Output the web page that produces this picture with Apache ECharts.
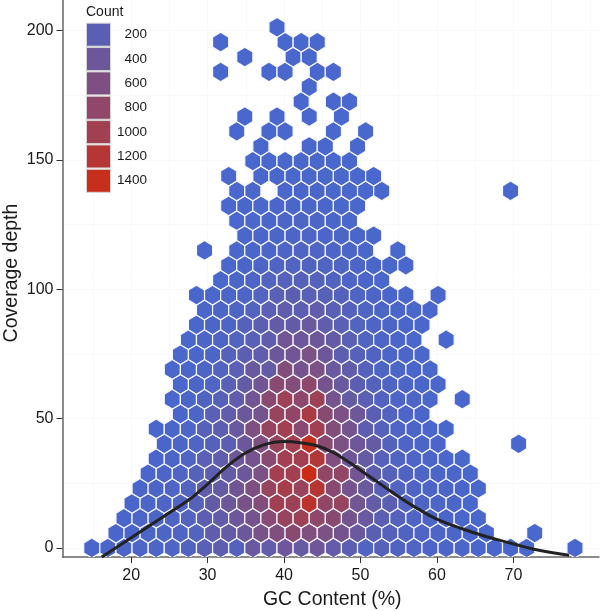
<!DOCTYPE html>
<html>
<head>
<meta charset="utf-8">
<style>html,body{margin:0;padding:0;background:#fff}#c{width:600px;height:611px}</style>
<script src="https://cdn.jsdelivr.net/npm/echarts@6/dist/echarts.min.js"></script>
</head>
<body>
<div id="c"></div>
<script>
// Hexagon bin grid (in data units)
const gcOrigin = 14.85, gcStep = 2.107, depthStep = 5.75;
// First column index in each row, bottom row first
const rowStart = [0,1,2,2,3,3,4,4,4,5,5,5,5,5,6,6,7,6,8,8,7,9,9,8,9,8,10,10,9,9,13,13,8,9,8,11];
// Bin counts in each row, null = empty bin
const rowCounts = [
 [15,20,30,40,50,60,90,180,230,120,350,280,420,330,420,280,220,80,150,90,70,45,35,30,20,20,15,8,null,null,4],
 [15,25,35,50,65,100,260,300,400,520,620,720,620,560,500,360,190,150,90,65,45,30,20,15,null,null,3],
 [20,35,50,70,110,220,270,400,500,700,880,950,780,720,500,360,190,130,70,50,35,20,8],
 [20,35,55,80,150,300,400,540,650,980,950,1280,820,880,460,280,190,100,65,45,30,10],
 [20,35,65,100,260,310,440,600,880,1050,900,1230,720,500,360,170,100,65,45,30,20,8],
 [20,40,65,130,220,300,400,560,1000,1000,1450,820,820,460,230,150,90,55,35,20,10],
 [15,35,70,180,260,400,500,720,1000,1000,1180,620,410,310,150,80,50,35,20,8],
 [15,35,60,150,220,400,600,880,1000,1400,720,560,410,310,130,70,40,18,null,null,null,null,3],
 [5,20,50,150,220,350,600,880,1000,720,1000,660,500,230,130,65,35,20,5],
 [15,50,180,260,400,500,880,820,1100,720,560,410,190,110,50,18],
 [10,35,90,150,260,450,720,950,770,950,500,310,190,90,50,30,10,null,3],
 [8,30,70,180,300,450,720,660,770,500,360,220,130,70,35,18,6],
 [6,20,60,100,180,360,310,660,500,560,360,260,130,60,35,18,6],
 [6,20,50,140,220,260,400,450,560,400,220,150,90,50,30,8],
 [10,40,60,100,180,260,450,400,400,310,180,80,50,20,8,null,3],
 [8,30,50,140,220,300,300,360,260,180,100,60,30,18,6],
 [15,35,60,100,180,260,220,260,180,120,70,35,18,8,3],
 [5,10,30,50,100,180,220,180,160,120,70,40,20,6,null,3],
 [12,30,60,100,140,150,120,90,50,22,6],
 [6,20,40,70,85,95,80,60,35,18,8,3],
 [3,null,8,20,40,55,70,60,45,25,12,null,3],
 [6,15,30,45,55,45,30,15,6],
 [4,12,22,35,40,30,18,8],
 [3,5,12,20,28,28,20,12,4],
 [3,6,null,12,16,16,12,8,4,3,null,null,null,null,null,null,null,3],
 [2,null,4,8,12,12,10,6,3,2],
 [3,6,8,8,6,4,2],
 [2,null,null,3,3,null,1],
 [1,null,3,3,null,null,2,null,1],
 [1,null,2,null,2,null,1],
 [2,null,2,1],
 [2],
 [1,null,null,2,2,null,2,1],
 [1,null,null,2,2],
 [1,null,null,null,2,2,1],
 [1]
];
// Smoothed trend line
const curveGC = [16.16,20.1,24.2,27.5,29.9,32.5,34.9,37.3,40,42.1,44.3,46.5,48.7,50.9,53.1,55.3,57.4,60,63.1,66.2,69.7,72.7,77.3];
const curveDepth = [-3.5,4.1,12.1,18.5,24.4,31.4,36.6,39.8,41.1,40.7,39.5,36.8,32.7,28.2,23.7,19.2,15.3,11.1,7.6,4.6,1.8,-0.5,-2.8];
// Axes and legend
const xTicks = [20,30,40,50,60,70];
const yTicks = [0,50,100,150,200];
const xGridLines = [15,20,25,30,35,40,45,50,55,60,65,70,75,80];
const yGridLines = [0,25,50,75,100,125,150,175,200];
const legendTicks = [200,400,600,800,1000,1200,1400];

const low = [73,103,204], high = [204,44,20], countMax = 1480;
function countColor(n){
  const t = Math.min(1, n / countMax);
  return 'rgb(' + low.map((c,i)=>Math.round(c + (high[i]-c)*t)).join(',') + ')';
}

const hexData = [];
rowCounts.forEach((row, r) => {
  row.forEach((n, i) => {
    if (n === null) return;
    const col = rowStart[r] + i;
    hexData.push([gcOrigin + gcStep*col + (r % 2 ? gcStep/2 : 0), r*depthStep, n]);
  });
});

function renderHex(params, api){
  const x = api.value(0), y = api.value(1);
  const w = gcStep/2, a = depthStep/3;
  const pts = [[x,y+2*a],[x+w,y+a],[x+w,y-a],[x,y-2*a],[x-w,y-a],[x-w,y+a]].map(p=>api.coord(p));
  return {type:'polygon', shape:{points:pts},
    style:{fill:countColor(api.value(2)), stroke:'#f7f8fd', lineWidth:1.2}};
}

const font = '"Liberation Sans", Helvetica, Arial, sans-serif';
const textCol = '#1a1a1a';
const legendGraphics = [{type:'text', left:86, top:5, z:10, style:{text:'Count', font:'14px '+font, fill:textCol}}];
legendTicks.forEach((t,i)=>{
  legendGraphics.push({type:'rect', left:86, top:22.7+i*24.35, z:10, shape:{width:24,height:23},
    style:{fill:countColor(t+ (t>1000?20:0)), stroke:'#d4d4d4', lineWidth:1}});
  legendGraphics.push({type:'text', right:600-147, top:27.5+i*24.35, z:10,
    style:{text:String(t), font:'13.5px '+font, fill:textCol, textAlign:'right'}});
});

const axisCommon = {
  axisLine:{show:true, onZero:false, lineStyle:{color:'#666', width:1.5}},
  axisTick:{show:true, length:6, lineStyle:{color:'#333', width:1}},
  splitLine:{show:false},
  nameLocation:'middle',
  nameMoveOverlap:false
};

const chart = echarts.init(document.getElementById('c'), null, {renderer:'canvas'});
chart.setOption({
  animation:false,
  backgroundColor:'#fff',
  grid:{left:62.5, right:1, top:0, bottom:54, outerBoundsMode:'none'},
  xAxis:Object.assign({}, axisCommon, {
    type:'value', min:11.02, max:81.2, name:'GC Content (%)', nameGap:33,
    nameTextStyle:{fontFamily:font, fontSize:19.5, color:textCol, padding:[0,0,0,3]},
    axisTick:Object.assign({}, axisCommon.axisTick, {customValues:xTicks}),
    axisLabel:{customValues:xTicks, margin:11, fontFamily:font, fontSize:16, color:textCol, hideOverlap:false}
  }),
  yAxis:Object.assign({}, axisCommon, {
    type:'value', min:-3.5, max:211.8, name:'Coverage depth', nameGap:41,
    nameTextStyle:{fontFamily:font, fontSize:19.5, color:textCol, padding:[0,0,0,11]},
    axisTick:Object.assign({}, axisCommon.axisTick, {customValues:yTicks}),
    axisLabel:{customValues:yTicks, margin:9, fontFamily:font, fontSize:16, color:textCol, hideOverlap:false}
  }),
  graphic:legendGraphics,
  series:[
    {type:'line', data:[], z:0, silent:true, symbol:'none',
     markLine:{silent:true, z:0, symbol:'none', label:{show:false}, animation:false,
       lineStyle:{color:'#f9f9f9', width:1, type:'solid'},
       data:xGridLines.map(v=>({xAxis:v})).concat(yGridLines.map(v=>({yAxis:v})))}},
    {type:'custom', data:hexData, renderItem:renderHex, encode:{x:0,y:1}, clip:true, z:2, silent:true},
    {type:'line', data:curveGC.map((g,i)=>[g,curveDepth[i]]), smooth:0.4, symbol:'none', z:3, silent:true,
     lineStyle:{color:'#222', width:3}}
  ]
});
</script>
</body>
</html>
